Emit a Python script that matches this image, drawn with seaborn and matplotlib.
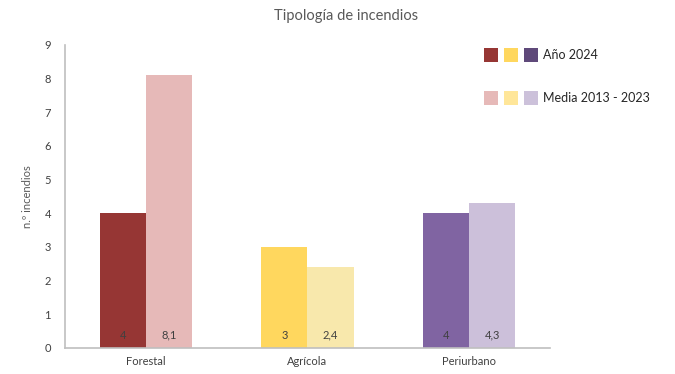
import matplotlib
matplotlib.use("Agg")
import matplotlib.pyplot as plt
from matplotlib.patches import Rectangle
import seaborn as sns
import pandas as pd

categories = ["Forestal", "Agrícola", "Periurbano"]
series = ["Año 2024", "Media 2013 - 2023"]
values_2024 = [4, 3, 4]
values_media = [8.1, 2.4, 4.3]
value_labels_2024 = ["4", "3", "4"]
value_labels_media = ["8,1", "2,4", "4,3"]

colors_2024 = ["#963634", "#FFD75E", "#8064A2"]
colors_media = ["#E6B9B8", "#F8E8AC", "#CCC0DA"]
legend_2024 = ["#963634", "#FFD75E", "#5F497A"]
legend_media = ["#E6B9B8", "#FFE699", "#CCC1DA"]

TXT = "#595959"

sns.set_theme(style="white")
plt.rcParams["font.family"] = ["Lato", "DejaVu Sans"]

df = pd.DataFrame({
    "categoria": categories * 2,
    "serie": [series[0]] * 3 + [series[1]] * 3,
    "valor": values_2024 + values_media,
})

fig = plt.figure(figsize=(6.75, 3.74), dpi=100)
ax = fig.add_axes([0.096, 0.070, 0.719, 0.810])

sns.barplot(data=df, x="categoria", y="valor", hue="serie", order=categories,
            hue_order=series, width=0.57, ax=ax, legend=False, errorbar=None,
            saturation=1)

for cont, cols, labs in zip(ax.containers, [colors_2024, colors_media],
                            [value_labels_2024, value_labels_media]):
    for bar, c, lab in zip(cont, cols, labs):
        bar.set_facecolor(c)
        bar.set_edgecolor("none")
        ax.text(bar.get_x() + bar.get_width() / 2, 0.38, lab, ha="center",
                va="center", fontsize=8, color="#404040")

ax.set_ylim(0, 9)
ax.set_xlim(-0.5, 2.5)
ax.set_yticks(range(0, 10))
ax.set_xlabel("")
ax.set_ylabel("n.º incendios", fontsize=8, color=TXT, labelpad=8)
ax.tick_params(axis="both", length=0, labelsize=8, labelcolor="#404040")
ax.tick_params(axis="y", pad=10)
ax.tick_params(axis="x", pad=6)
for s in ["top", "right"]:
    ax.spines[s].set_visible(False)
for s in ["left", "bottom"]:
    ax.spines[s].set_color("#BFBFBF")
    ax.spines[s].set_linewidth(1.2)

fig.text(0.512, 0.958, "Tipología de incendios", ha="center", va="center",
         fontsize=10.5, color=TXT)

# legend built from colored squares
W, H = 675, 374
def square(x, y, c):
    fig.patches.append(Rectangle((x / W, 1 - (y + 14) / H), 14 / W, 14 / H,
                                 transform=fig.transFigure, facecolor=c,
                                 edgecolor="none"))
for i, c in enumerate(legend_2024):
    square(484 + i * 20, 48, c)
for i, c in enumerate(legend_media):
    square(484 + i * 20, 91, c)
fig.text(543 / W, 1 - 55 / H, series[0], ha="left", va="center", fontsize=9,
         color="#262626")
fig.text(543 / W, 1 - 98 / H, series[1], ha="left", va="center", fontsize=9,
         color="#262626")

fig.savefig("out.png", dpi=100, facecolor="white")
